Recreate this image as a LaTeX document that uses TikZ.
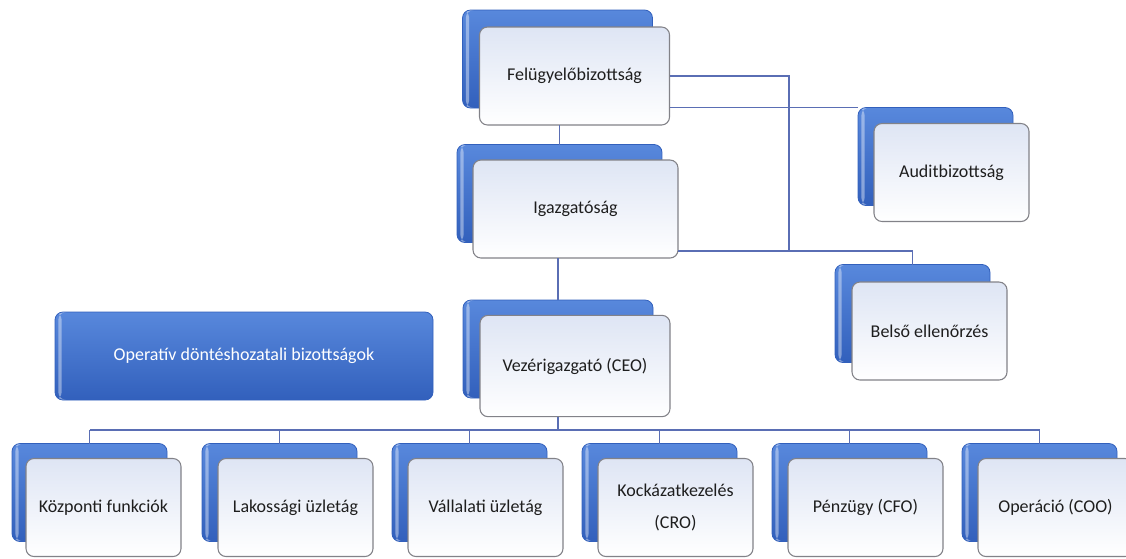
\documentclass[tikz,border=0pt]{standalone}
\usepackage{fontspec}
\setmainfont{Carlito}

\definecolor{boxblue}{RGB}{88,136,220}
\definecolor{boxbluedark}{RGB}{50,96,188}
\definecolor{boxedge}{RGB}{130,130,136}
\definecolor{boxtop}{RGB}{222,229,244}
\definecolor{linkblue}{RGB}{90,110,180}
\definecolor{txtgray}{RGB}{30,30,30}

\tikzset{
  backbox/.style={rectangle, rounded corners=6pt, inner sep=0pt, outer sep=0pt,
    top color=boxblue, bottom color=boxbluedark, draw=boxbluedark, line width=0.6pt,
    path picture={\fill[white, opacity=0.4] ([xshift=2.5pt]path picture bounding box.north west)
      rectangle ([xshift=5pt]path picture bounding box.south west);}},
  frontbox/.style={rectangle, rounded corners=6pt, inner sep=0pt, outer sep=0pt,
    top color=boxtop, bottom color=white, draw=boxedge, line width=0.8pt,
    text=txtgray, align=center, font=\fontsize{13.5}{16}\selectfont},
  topsize/.style={minimum width=142.5pt, minimum height=73.5pt},
  smallsize/.style={minimum width=116.25pt, minimum height=73.5pt},
  link/.style={draw=linkblue, line width=0.9pt},
}

\begin{document}
\begin{tikzpicture}[x=0.75pt,y=0.75pt,yscale=-1,xscale=1]
\useasboundingbox (0,0) rectangle (1126,558);

%Shape: Felugyelobizottsag
\node[backbox, topsize] (felb) at (557.5,59) {};
\node[frontbox, topsize] (fel) at (574.5,76) {Felügyelőbizottság};
%Shape: Igazgatosag
\node[backbox, topsize, minimum width=153.75pt] (igb) at (559.5,193.5) {};
\node[frontbox, topsize, minimum width=153.75pt] (ig) at (575.5,209) {Igazgatóság};
%Shape: Vezerigazgato
\node[backbox, topsize] (vezb) at (558,349) {};
\node[frontbox, topsize, minimum height=76pt] (vez) at (575,366) {Vezérigazgató (CEO)};
%Shape: Auditbizottsag
\node[backbox, smallsize] (audb) at (935.5,156.5) {};
\node[frontbox, smallsize] (aud) at (951.5,172.5) {Auditbizottság};
%Shape: Belso ellenorzes
\node[backbox, smallsize] (belb) at (912.5,313.5) {};
\node[frontbox, smallsize] (bel) at (929.5,331) {Belső ellenőrzés};
%Shape: Operativ bizottsagok
\node[backbox, minimum width=283.5pt, minimum height=66pt, text=white,
  font=\fontsize{13.5}{16}\selectfont] (op) at (244,356) {Operatív döntéshozatali bizottságok};

%Shape: bottom row
\node[backbox, smallsize] (kozpb) at (89.5,492.5) {};
\node[frontbox, smallsize] (kozp) at (103.5,507.5) {Központi funkciók};
\node[backbox, smallsize] (lakb) at (279.5,492.5) {};
\node[frontbox, smallsize] (lak) at (295.5,507.5) {Lakossági üzletág};
\node[backbox, smallsize] (vallb) at (469.5,492.5) {};
\node[frontbox, smallsize] (vall) at (485.5,507.5) {Vállalati üzletág};
\node[backbox, smallsize] (kockb) at (659.5,492.5) {};
\node[frontbox, smallsize] (kock) at (675.5,507.5) {Kockázatkezelés\\[8pt](CRO)};
\node[backbox, smallsize] (penzb) at (849.5,492.5) {};
\node[frontbox, smallsize] (penz) at (865.5,507.5) {Pénzügy (CFO)};
\node[backbox, smallsize] (operb) at (1039.5,492.5) {};
\node[frontbox, smallsize] (oper) at (1055.5,507.5) {Operáció (COO)};

%Straight Lines
\coordinate (jct) at (789,251);
\coordinate (bus) at (558,430);
\draw[link] (fel.east) -| (jct) -| (belb.north);
\draw[link] (ig.east |- jct) -- (jct);
\draw[link] (fel.east |- audb.north west) -- (audb.north west);
\draw[link] (igb.north |- fel.south) -- (igb.north);
\draw[link] (vezb.north |- ig.south) -- (vezb.north);
\draw[link] (vezb.south |- vez.south) -- (bus);
\draw[link] (bus -| kozpb.north) -- (bus -| operb.north);
\draw[link] (bus -| kozpb.north) -- (kozpb.north);
\draw[link] (bus -| lakb.north) -- (lakb.north);
\draw[link] (bus -| vallb.north) -- (vallb.north);
\draw[link] (bus -| kockb.north) -- (kockb.north);
\draw[link] (bus -| penzb.north) -- (penzb.north);
\draw[link] (bus -| operb.north) -- (operb.north);

\end{tikzpicture}
\end{document}
